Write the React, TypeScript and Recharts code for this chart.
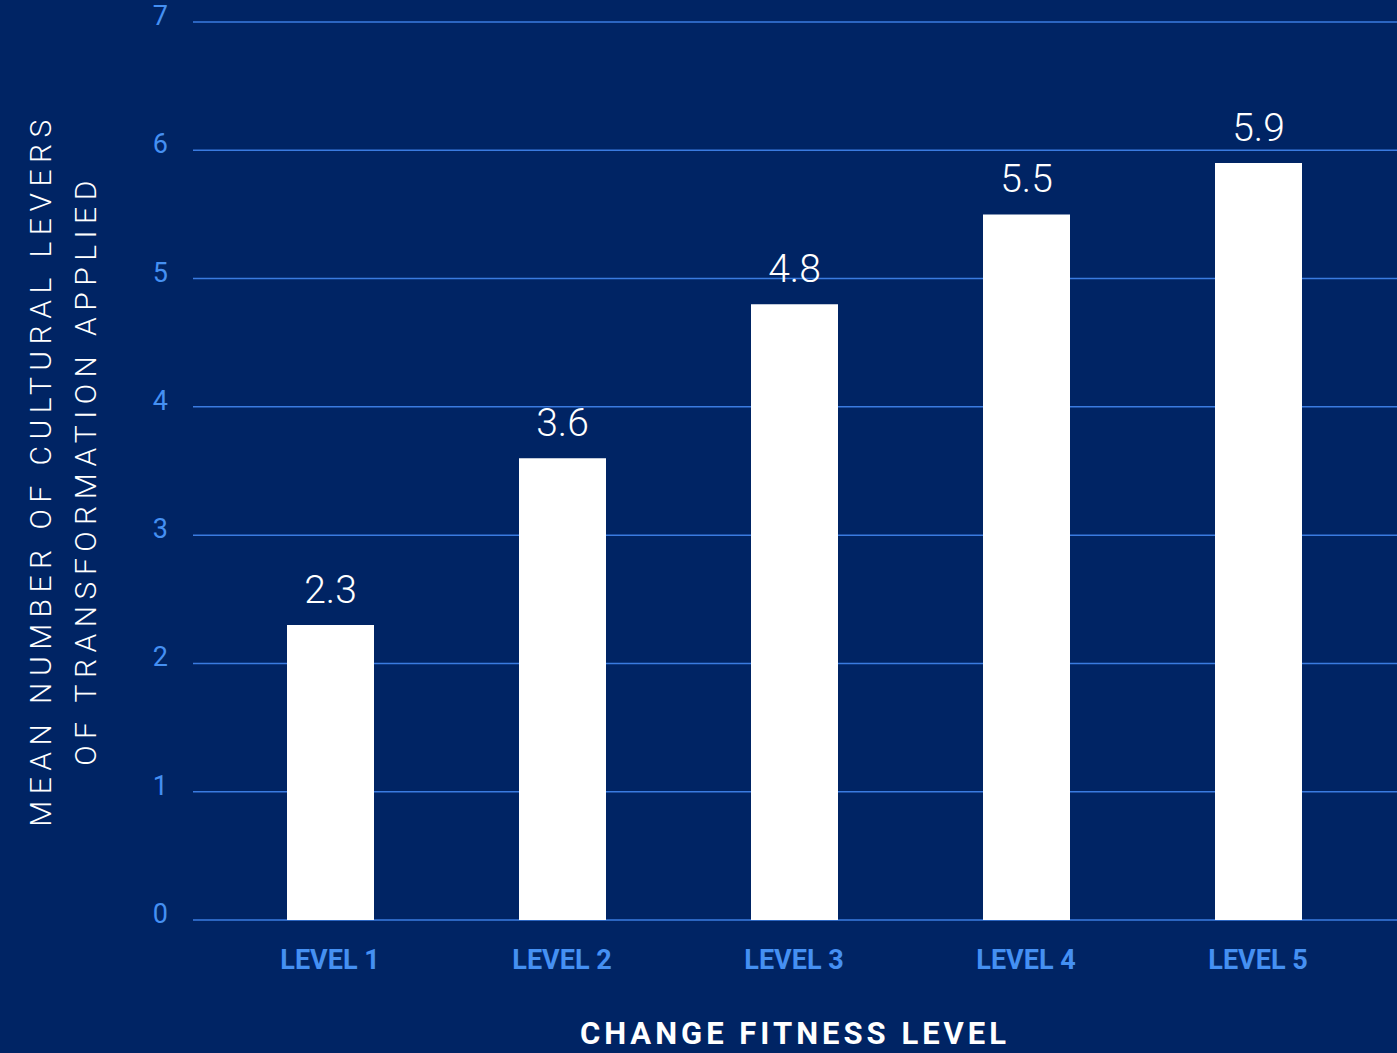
import { BarChart, Bar, XAxis, YAxis, CartesianGrid, LabelList, Label } from 'recharts'

const levels = ['LEVEL 1', 'LEVEL 2', 'LEVEL 3', 'LEVEL 4', 'LEVEL 5']
const meanLevers = [2.3, 3.6, 4.8, 5.5, 5.9]
const yTicks = [0, 1, 2, 3, 4, 5, 6, 7]
const yTitleLines = ['MEAN NUMBER OF CULTURAL LEVERS', 'OF TRANSFORMATION APPLIED']
const xTitle = 'CHANGE FITNESS LEVEL'

const data = levels.map((level, i) => ({ level, value: meanLevers[i] }))

const BG = '#002464'
const GRID = '#3a7be0'
const TICK = '#4590f2'

// eslint-disable-next-line @typescript-eslint/no-explicit-any
function YTick({ x, y, payload }: any) {
  return (
    <text
      x={x}
      y={y - 6}
      textAnchor="end"
      dominantBaseline="central"
      fill={TICK}
      fontSize={27}
      fontFamily="Roboto, sans-serif"
      fontWeight={400}
    >
      {payload.value}
    </text>
  )
}

// eslint-disable-next-line @typescript-eslint/no-explicit-any
function YTitle({ viewBox }: any) {
  const cy = 470
  return (
    <g>
      {yTitleLines.map((line, i) => {
        const cx = viewBox.x + 40 + i * 45
        return (
          <text
            key={line}
            x={cx}
            y={cy}
            transform={`rotate(-90 ${cx} ${cy})`}
            textAnchor="middle"
            dominantBaseline="central"
            fill="#ffffff"
            fontSize={30}
            fontFamily="Roboto, sans-serif"
            fontWeight={300}
            style={{ letterSpacing: '6.5px' }}
          >
            {line}
          </text>
        )
      })}
    </g>
  )
}

export default function App() {
  return (
    <div style={{ position: 'absolute', left: 0, top: 0, width: 1397, height: 1053, background: BG }}>
      <BarChart
        width={1397}
        height={1053}
        data={data}
        margin={{ top: 22, right: 0, bottom: 0, left: 0 }}
        barCategoryGap={0}
      >
        <CartesianGrid vertical={false} stroke={GRID} strokeWidth={1.5} />
        <XAxis
          dataKey="level"
          axisLine={false}
          tickLine={false}
          height={133}
          padding={{ left: 21, right: 23 }}
          tickMargin={24}
          tick={{ fill: TICK, fontSize: 27, fontWeight: 700, fontFamily: 'Roboto, sans-serif' }}
        >
          <Label
            value={xTitle}
            position="insideBottom"
            offset={9}
            fill="#ffffff"
            fontSize={31}
            fontWeight={700}
            fontFamily="Roboto, sans-serif"
            style={{ letterSpacing: '4px' }}
          />
        </XAxis>
        <YAxis
          domain={[0, 7]}
          ticks={yTicks}
          width={193}
          axisLine={false}
          tickLine={false}
          tickMargin={19}
          tick={<YTick />}
          label={<YTitle />}
        />
        <Bar dataKey="value" fill="#ffffff" barSize={87} isAnimationActive={false}>
          <LabelList
            dataKey="value"
            position="top"
            offset={22}
            fill="#ffffff"
            fontSize={39}
            fontWeight={300}
            fontFamily="Roboto, sans-serif"
          />
        </Bar>
      </BarChart>
    </div>
  )
}
